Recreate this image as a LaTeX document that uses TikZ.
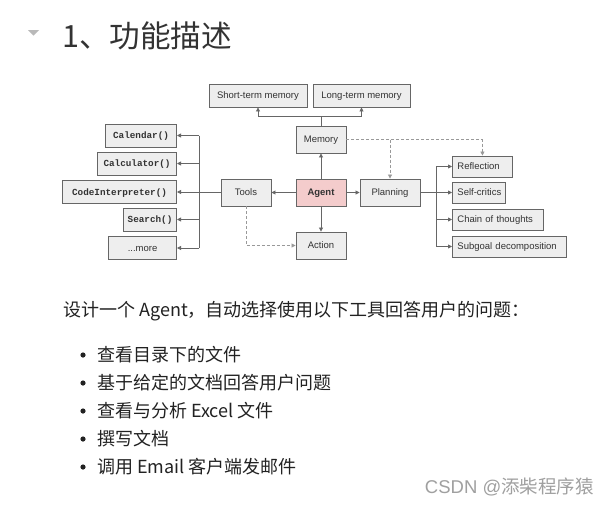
\documentclass[tikz,border=0pt]{standalone}
\usepackage{fontspec}
\newfontfamily\cjk{Noto Sans CJK SC}
\newfontfamily\arialf{Liberation Sans}
\newfontfamily\monof{Liberation Mono}
\usetikzlibrary{arrows.meta}
\definecolor{bordc}{HTML}{666666}
\definecolor{linec}{HTML}{666666}
\definecolor{dashc}{HTML}{999999}
\definecolor{boxfill}{HTML}{EEEEEE}
\definecolor{agentfill}{HTML}{F4CCCC}
\definecolor{textc}{HTML}{333333}
\definecolor{bodyc}{HTML}{222222}
\definecolor{wmc}{HTML}{A0A0A0}
\begin{document}
\begin{tikzpicture}[x=1pt,y=-1pt,
  box/.style={draw=bordc, fill=boxfill, line width=0.9pt, inner sep=0pt,
    font=\arialf\fontsize{9.5}{11}\selectfont, text=textc, minimum height=27pt,
    text height=7pt, text depth=1pt},
  sbox/.style={box, minimum height=23pt},
  tbox/.style={box, minimum height=23pt, font=\monof\bfseries\fontsize{9.3}{11}\selectfont},
  rbox/.style={box, anchor=west, minimum height=21pt, inner xsep=5pt, align=left},
  conn/.style={draw=linec, line width=0.8pt},
  arr/.style={conn, -{Triangle[length=4pt,width=4pt]}},
  darr/.style={draw=dashc, line width=0.8pt, dash pattern=on 3pt off 2pt, -{Triangle[length=4pt,width=4pt]}},
  body/.style={anchor=west, inner sep=0pt, font=\cjk\fontsize{18}{21}\selectfont, text=bodyc}
]
\fill[white] (0,0) rectangle (610,504);
\useasboundingbox (0,0) rectangle (610,504);

% title
\fill[gray!55] (28,30) -- (39,30) -- (33.5,35.5) -- cycle;
\node[anchor=west, inner sep=0pt, font=\cjk\fontsize{30.6}{34}\selectfont, text=textc] (title) at (62,36) {1、功能描述};

% diagram boxes
\node[sbox, minimum width=98pt] (stm) at (258,95.5) {Short-term memory};
\node[sbox, minimum width=97pt] (ltm) at (361.5,95.5) {Long-term memory};
\node[box, minimum width=50pt] (mem) at (321,139.5) {Memory};
\node[box, minimum width=50pt, fill=agentfill, font=\arialf\bfseries\fontsize{9.5}{11}\selectfont] (agent) at (321,192.5) {Agent};
\node[box, minimum width=50pt] (tools) at (246,192.5) {Tools};
\node[box, minimum width=50pt] (action) at (321,245.5) {Action};
\node[box, minimum width=60pt] (plan) at (390,192.5) {Planning};

\node[rbox, text width=50pt] (refl) at (452,166.5) {Reflection};
\node[rbox, text width=43pt] (self) at (452,192.5) {\mbox{Self-critics}};
\node[rbox, text width=81pt] (chain) at (452,219.5) {Chain of thoughts};
\node[rbox, text width=104pt] (sub) at (452,246.5) {Subgoal decomposition};

\node[tbox, minimum width=71pt, anchor=east] (cal) at (177,135.5) {Calendar()};
\node[tbox, minimum width=79pt, anchor=east] (calc) at (177,163.5) {Calculator()};
\node[tbox, minimum width=114pt, anchor=east] (code) at (177,192) {CodeInterpreter()};
\node[tbox, minimum width=53pt, anchor=east] (search) at (177,219.5) {Search()};
\node[tbox, minimum width=68pt, anchor=east, font=\arialf\fontsize{9.5}{11}\selectfont] (more) at (177,248) {...more};

% connectors
\coordinate (mj) at (321,116);
\draw[conn] (mem.north) -- (mj);
\draw[arr] (mj) -| (stm.south);
\draw[arr] (mj) -| (ltm.south);

\draw[arr] (agent.north) -- (mem.south);
\draw[arr] (agent.west) -- (tools.east);
\draw[arr] (agent.east) -- (plan.west);
\draw[arr] (agent.south) -- (action.north);

\coordinate (tj) at (199,192.5);
\draw[conn] (tools.west) -- (tj);
\draw[conn] (199,135.5) -- (199,248);
\draw[arr] (199,135.5) -- (cal.east);
\draw[arr] (199,163.5) -- (calc.east);
\draw[arr] (199,192) -- (code.east);
\draw[arr] (199,219.5) -- (search.east);
\draw[arr] (199,248) -- (more.east);

\coordinate (pj) at (436,192.5);
\draw[conn] (plan.east) -- (pj);
\draw[arr] (pj) |- (refl.west);
\draw[arr] (pj) -- (self.west);
\draw[arr] (pj) |- (chain.west);
\draw[arr] (pj) |- (sub.west);

\draw[darr] (mem.east) -| (refl.north);
\coordinate (mdj) at (plan.north |- mem.east);
\draw[darr] (mdj) -- (plan.north);
\draw[darr] (tools.south) |- (action.west);

% text
\node[body] (intro) at (63,311) {设计一个 Agent，自动选择使用以下工具回答用户的问题：};
\foreach \yy in {355,383,411,439,467} { \fill[bodyc] (83,\yy) circle (2.6pt); }
\node[body] (b1) at (97,355) {查看目录下的文件};
\node[body] (b2) at (97,383) {基于给定的文档回答用户问题};
\node[body] (b3) at (97,411) {查看与分析 Excel 文件};
\node[body] (b4) at (97,439) {撰写文档};
\node[body] (b5) at (97,467) {调用 Email 客户端发邮件};

\node[anchor=east, inner sep=0pt, text=wmc] (wm) at (594,487) {\arialf\fontsize{18.5}{21}\selectfont CSDN @\cjk 添柴程序猿};
\end{tikzpicture}
\end{document}
